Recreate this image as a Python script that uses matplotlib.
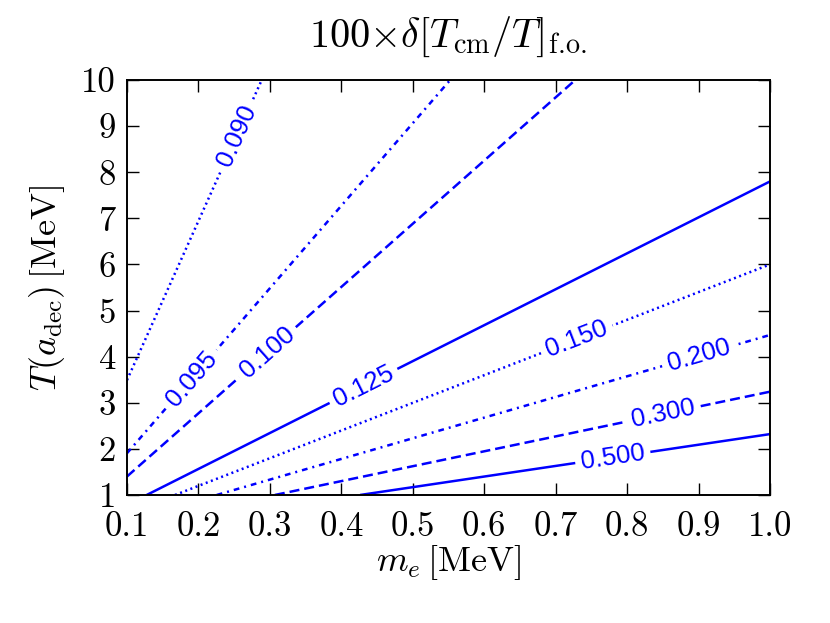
import numpy as np
import matplotlib
matplotlib.use("Agg")
import matplotlib.pyplot as plt

plt.rcParams['font.family'] = 'serif'
plt.rcParams['font.serif'] = ['cmr10']
plt.rcParams['mathtext.fontset'] = 'cm'
plt.rcParams['axes.formatter.use_mathtext'] = True

# contour levels and their lines (end points on the frame)
levels = ['0.090', '0.095', '0.100', '0.125', '0.150', '0.200', '0.300', '0.500']
m_start = [0.100, 0.100, 0.100, 0.1276, 0.1672, 0.2256, 0.307, 0.4263]
T_start = [3.49, 1.905, 1.40, 1.0, 1.0, 1.0, 1.0, 1.0]
m_end = [0.2886, 0.5524, 0.7275, 1.0, 1.0, 1.0, 1.0, 1.0]
T_end = [10.0, 10.0, 10.0, 7.80, 6.00, 4.47, 3.24, 2.32]
# where the inline labels sit (x position along each line)
label_m = [0.2536, 0.1906, 0.2965, 0.431, 0.730, 0.900, 0.850, 0.780]

x_ticks = [0.1, 0.2, 0.3, 0.4, 0.5, 0.6, 0.7, 0.8, 0.9, 1.0]
y_ticks = [1, 2, 3, 4, 5, 6, 7, 8, 9, 10]

styles = [(0, (0.8, 1.4)), (0, (2.3, 2.0, 0.8, 2.0)), (0, (4, 2)), '-']

fig = plt.figure(figsize=(8.3, 6.23), dpi=100)
ax = fig.add_axes([0.153, 0.2055, 0.7747, 0.6661])
ax.set_xlim(0.1, 1.0)
ax.set_ylim(1, 10)

for i in range(len(levels)):
    ax.plot([m_start[i], m_end[i]], [T_start[i], T_end[i]], color='blue',
            lw=1.8, linestyle=styles[i % 4], solid_capstyle='butt')

# labels rotated along the lines
for i in range(len(levels)):
    xs = [m_start[i], m_end[i]]
    ys = [T_start[i], T_end[i]]
    ly = np.interp(label_m[i], xs, ys)
    p1 = ax.transData.transform((xs[0], ys[0]))
    p2 = ax.transData.transform((xs[1], ys[1]))
    ang = np.degrees(np.arctan2(p2[1] - p1[1], p2[0] - p1[0]))
    ax.text(label_m[i], ly, levels[i], color='blue', fontsize=18.5,
            family='Liberation Sans', rotation=ang, rotation_mode='anchor',
            ha='center', va='center',
            bbox=dict(fc='white', ec='none', pad=4))

ax.set_xticks(x_ticks)
ax.set_xticklabels(['%.1f' % v for v in x_ticks])
ax.set_yticks(y_ticks)
ax.set_yticklabels([str(v) for v in y_ticks])
ax.tick_params(direction='in', length=8.5, width=1, top=True, right=True,
               labelsize=25)
ax.tick_params(axis='x', pad=12)
ax.tick_params(axis='y', pad=8)
for s in ax.spines.values():
    s.set_linewidth(1.4)

ax.set_xlabel(r'$m_e\,[\rm MeV]$', fontsize=26, labelpad=0)
ax.set_ylabel(r'$T(a_{\rm dec})\,[\rm MeV]$', fontsize=26, labelpad=10)
ax.set_title(r'$100{\times}\delta[T_{\rm cm}/T]_{\rm f.\!o.}$', fontsize=29, pad=24)

fig.savefig('out.png', dpi=100)
